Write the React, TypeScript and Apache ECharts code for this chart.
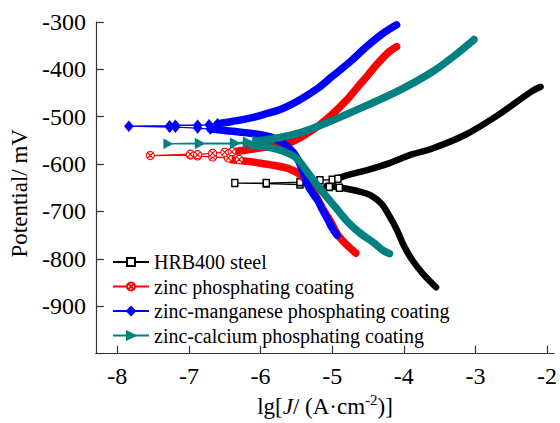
import React, { useEffect, useRef } from 'react';
import * as echarts from 'echarts';

const FONT = 'Liberation Serif';

const seriesNames = [
  'HRB400 steel',
  'zinc phosphating coating',
  'zinc-manganese phosphating coating',
  'zinc-calcium phosphating coating',
];
const colors = ['#000000', '#ff0000', '#0000ff', '#008080'];
const xTickValues = [-8, -7, -6, -5, -4, -3, -2];

// HRB400 steel
const blackCathodicBand = [[-3.55, -860], [-3.72, -834], [-3.88, -803], [-4.0, -772], [-4.09, -741], [-4.2, -710], [-4.31, -684], [-4.45, -667], [-4.62, -658], [-4.83, -651], [-4.97, -648], [-5.08, -646]];
const blackSparse = [[-4.9, -650], [-5.04, -648], [-5.45, -643], [-5.92, -641], [-6.36, -640], [-5.92, -640], [-5.45, -638], [-5.17, -634], [-5.0, -633], [-4.92, -631]];
const blackAnodicBand = [[-4.92, -631], [-4.8, -624], [-4.5, -612], [-4.2, -598], [-3.9, -580], [-3.6, -567], [-3.14, -538], [-2.68, -496], [-2.22, -447], [-2.09, -437]];

// zinc phosphating coating
const redCathodicBand = [[-4.67, -788], [-4.8, -770], [-4.92, -750], [-5.02, -722], [-5.12, -697], [-5.2, -675], [-5.27, -655], [-5.35, -638], [-5.45, -622], [-5.6, -610], [-5.8, -603], [-6.0, -598], [-6.2, -594], [-6.4, -591]];
const redSparse = [[-6.3, -590], [-6.45, -587], [-6.67, -585], [-6.88, -583], [-6.98, -581], [-7.54, -582], [-6.98, -579], [-6.88, -580], [-6.67, -577], [-6.5, -575], [-6.4, -574]];
const redAnodicBand = [[-6.4, -574], [-6.1, -568], [-5.8, -561], [-5.55, -552], [-5.4, -540], [-5.2, -520], [-5.0, -495], [-4.8, -465], [-4.66, -440], [-4.5, -412], [-4.38, -390], [-4.2, -362], [-4.1, -352]];

// zinc-manganese phosphating coating
const blueCathodicBand = [[-4.93, -750], [-5.0, -735], [-5.05, -720], [-5.13, -698], [-5.2, -677], [-5.27, -662], [-5.34, -645], [-5.4, -620], [-5.48, -590], [-5.6, -566], [-5.8, -546], [-6.0, -538], [-6.3, -532], [-6.5, -529], [-6.7, -526]];
const blueSparse = [[-6.7, -526], [-6.88, -524], [-7.19, -522], [-7.27, -522], [-7.84, -520], [-7.27, -519], [-7.19, -518], [-6.88, -518], [-6.72, -517], [-6.6, -515]];
const blueAnodicBand = [[-6.6, -515], [-6.4, -510], [-6.15, -503], [-5.95, -495], [-5.7, -483], [-5.45, -464], [-5.2, -440], [-5.0, -415], [-4.75, -384], [-4.52, -352], [-4.3, -325], [-4.1, -306]];

// zinc-calcium phosphating coating
const tealCathodicBand = [[-4.2, -789], [-4.3, -781], [-4.42, -766], [-4.6, -747], [-4.77, -724], [-4.95, -692], [-5.16, -654], [-5.33, -620], [-5.51, -586], [-5.7, -572], [-5.9, -564], [-6.1, -560]];
const tealSparse = [[-6.1, -560], [-6.18, -556], [-6.36, -557], [-6.85, -557], [-7.29, -557], [-6.85, -556], [-6.36, -555], [-6.18, -553], [-6.05, -551]];
const tealAnodicBand = [[-6.05, -551], [-5.8, -546], [-5.41, -532], [-5.0, -508], [-4.5, -475], [-4.07, -445], [-3.6, -405], [-3.3, -372], [-3.02, -337]];

const crossedCircle = 'path://M19,10A9,9,0,1,1,1,10A9,9,0,1,1,19,10ZM3.6,3.6L16.4,16.4M16.4,3.6L3.6,16.4';

const symbols: any[] = [
  { symbol: 'rect', symbolSize: [6, 7], symbolRotate: 0, fill: '#ffffff', border: '#000000', bw: 1.5 },
  { symbol: crossedCircle, symbolSize: 8, symbolRotate: 0, fill: '#ffffff', border: '#ff0000', bw: 1.1 },
  { symbol: 'diamond', symbolSize: [9, 11], symbolRotate: 0, fill: '#0000ff', border: '#0000ff', bw: 0.5 },
  { symbol: 'triangle', symbolSize: [10, 9], symbolRotate: -90, fill: '#008080', border: '#008080', bw: 0.5 },
];

const bands = [
  [blackCathodicBand, blackAnodicBand],
  [redCathodicBand, redAnodicBand],
  [blueCathodicBand, blueAnodicBand],
  [tealCathodicBand, tealAnodicBand],
];
const sparses = [blackSparse, redSparse, blueSparse, tealSparse];

function buildSeries() {
  const out: any[] = [];
  for (let i = 0; i < 4; i++) {
    for (const b of bands[i]) {
      out.push({
        type: 'line',
        data: b,
        showSymbol: false,
        symbol: 'none',
        silent: true,
        smooth: 0.3,
        z: 2 + i,
        lineStyle: { color: colors[i], width: i === 0 ? 6.5 : 7.5, cap: 'round', join: 'round' },
      });
    }
    const s = symbols[i];
    out.push({
      type: 'line',
      name: seriesNames[i],
      data: sparses[i],
      symbol: s.symbol,
      symbolSize: s.symbolSize,
      symbolRotate: s.symbolRotate,
      showSymbol: true,
      z: 2 + i,
      lineStyle: { color: colors[i], width: 1.3 },
      itemStyle: { color: s.fill, borderColor: s.border, borderWidth: s.bw },
    });
  }
  return out;
}

export default function App() {
  const ref = useRef<HTMLDivElement>(null);
  useEffect(() => {
    const chart = echarts.init(ref.current!, null, { renderer: 'svg' });
    chart.setOption({
      animation: false,
      backgroundColor: '#ffffff',
      textStyle: { fontFamily: FONT, color: '#000' },
      grid: { left: 95, top: 22, right: 3, bottom: 63, containLabel: false },
      legend: {
        data: seriesNames,
        orient: 'vertical',
        left: 112,
        top: 252,
        padding: 0,
        itemWidth: 36,
        itemHeight: 10,
        itemGap: 4.5,
        textStyle: { fontFamily: FONT, fontSize: 20, color: '#000', lineHeight: 20 },
      },
      xAxis: {
        type: 'value',
        min: -8.3,
        max: -1.9,
        name: '{n|lg[}{i|J}{n|/ (A·cm}{s|-2}{n|)]}',
        nameLocation: 'middle',
        nameGap: 34,
        nameTextStyle: {
          fontFamily: FONT,
          fontSize: 23,
          color: '#000',
          rich: {
            n: { fontFamily: FONT, fontSize: 23, color: '#000', lineHeight: 28 },
            i: { fontFamily: FONT, fontSize: 23, fontStyle: 'italic', color: '#000', lineHeight: 28 },
            s: { fontFamily: FONT, fontSize: 15, color: '#000', verticalAlign: 'top', lineHeight: 16 },
          },
        },
        axisLine: { show: true, onZero: false, lineStyle: { color: '#333', width: 1.2 } },
        axisTick: { show: true, inside: true, length: 8, customValues: xTickValues, lineStyle: { color: '#333', width: 1.2 } },
        axisLabel: { customValues: xTickValues, margin: 10, fontFamily: FONT, fontSize: 24, color: '#000' },
        splitLine: { show: false },
      },
      yAxis: {
        type: 'value',
        min: -1000,
        max: -300,
        interval: 100,
        name: 'Potential/ mV',
        nameLocation: 'middle',
        nameRotate: 90,
        nameGap: 60,
        nameTextStyle: { fontFamily: FONT, fontSize: 23, color: '#000', padding: [0, 11, 0, 0] },
        axisLine: { show: true, onZero: false, lineStyle: { color: '#333', width: 1.2 } },
        axisTick: { show: true, inside: true, length: 8, lineStyle: { color: '#333', width: 1.2 } },
        axisLabel: {
          margin: 10,
          fontFamily: FONT,
          fontSize: 24,
          color: '#000',
          formatter: (v: number) => (v === -1000 ? '' : String(v)),
        },
        splitLine: { show: false },
      },
      series: buildSeries(),
    });
    return () => chart.dispose();
  }, []);
  return <div ref={ref} style={{ position: 'absolute', left: 0, top: 0, width: 560, height: 423 }} />;
}
